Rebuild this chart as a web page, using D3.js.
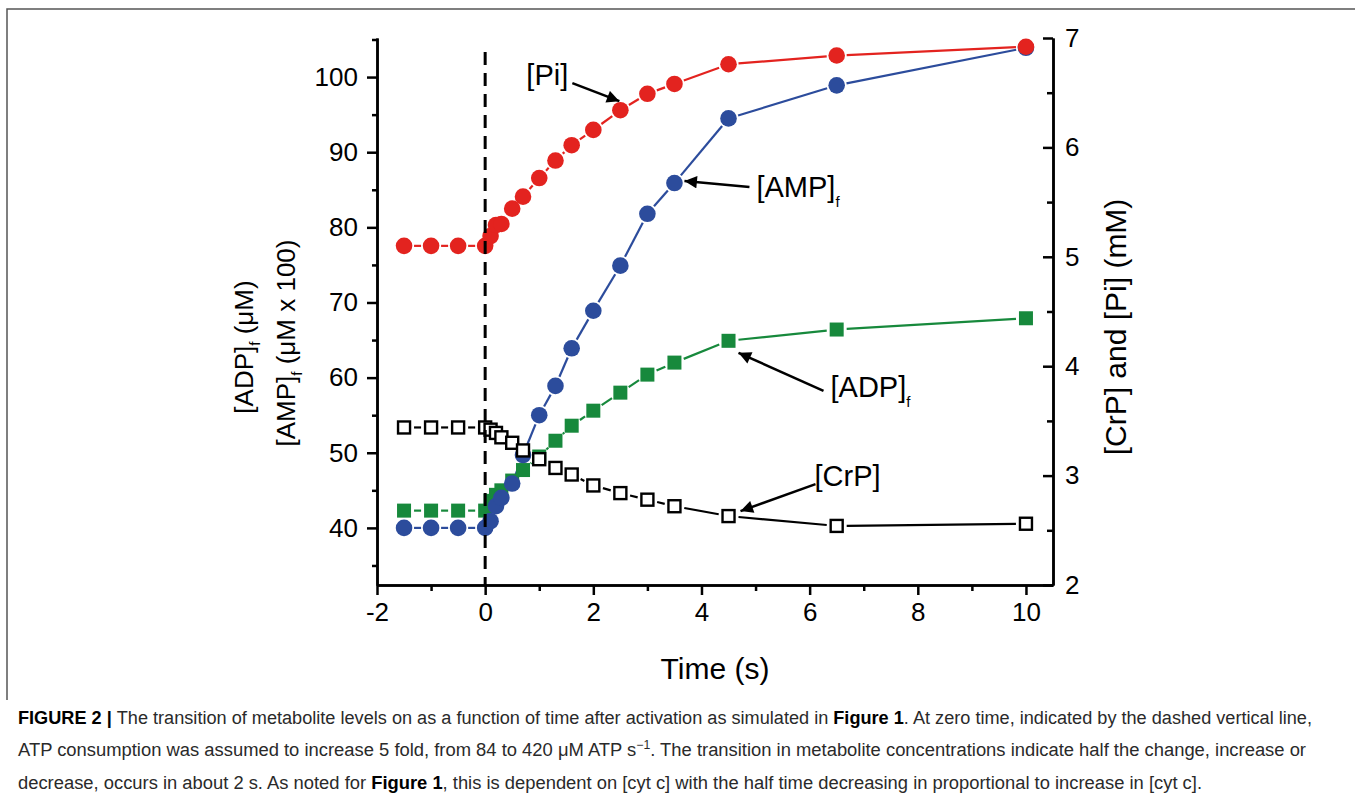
<!DOCTYPE html>
<html>
<head>
<meta charset="utf-8">
<script src="https://cdn.jsdelivr.net/npm/d3@7"></script>
<style>
  body { margin: 0; background: #fff; }
  svg text { font-family: "Liberation Sans", Arial, sans-serif; }
</style>
</head>
<body>
<script>
// time after activation (s)
let time = [-1.5, -1, -0.5, 0, 0.1, 0.2, 0.3, 0.5, 0.7, 1.0, 1.3, 1.6, 2.0, 2.5, 3.0, 3.5, 4.5, 6.5, 10];
// left axis
let amp = [40, 40, 40, 40, 40.9, 42.9, 44.0, 45.9, 49.7, 55.0, 58.9, 63.9, 68.9, 74.9, 81.8, 85.9, 94.5, 98.9, 103.9];
let adp = [42.3, 42.3, 42.3, 42.3, 43.6, 44.4, 45.0, 46.3, 47.7, 49.5, 51.6, 53.6, 55.6, 58.0, 60.4, 62.0, 64.9, 66.4, 67.9];
// right axis (mM)
let pi = [5.10, 5.10, 5.10, 5.10, 5.19, 5.29, 5.30, 5.44, 5.55, 5.72, 5.88, 6.02, 6.16, 6.34, 6.49, 6.58, 6.76, 6.84, 6.92];
let crp = [3.44, 3.44, 3.44, 3.44, 3.42, 3.39, 3.35, 3.30, 3.23, 3.15, 3.07, 3.01, 2.91, 2.84, 2.78, 2.72, 2.63, 2.54, 2.56];

let xMajor = [-2, 0, 2, 4, 6, 8, 10];
let xMinor = [-1, 1, 3, 5, 7, 9];
let yLeftMajor = [40, 50, 60, 70, 80, 90, 100];
let yLeftMinor = [35, 45, 55, 65, 75, 85, 95, 105];
let yRightMajor = [2, 3, 4, 5, 6, 7];
let yRightMinor = [2.5, 3.5, 4.5, 5.5, 6.5];

let caption = [
  [["FIGURE 2 | ", true], ["The transition of metabolite levels on as a function of time after activation as simulated in ", false], ["Figure 1", true], [". At zero time, indicated by the dashed vertical line,", false]],
  [["ATP consumption was assumed to increase 5 fold, from 84 to 420 \u03BCM ATP s", false], ["\u22121", "sup"], [". The transition in metabolite concentrations indicate half the change, increase or", false]],
  [["decrease, occurs in about 2 s. As noted for ", false], ["Figure 1", true], [", this is dependent on [cyt c] with the half time decreasing in proportional to increase in [cyt c].", false]]
];

let width = 1355, height = 802;
let svg = d3.select('body').append('svg')
            .attr('width', width)
            .attr('height', height);

let x = d3.scaleLinear().domain([-2, 10.5]).range([377, 1053]);
let yL = d3.scaleLinear().domain([32.4, 105.2]).range([585, 38]);
let yR = d3.scaleLinear().domain([2, 7]).range([585, 38]);

let red = '#e3231f', blue = '#2c4c9c', green = '#17893c';

// frame around figure
svg.append('path')
   .attr('d', 'M7,700 L7,9 L1355,9')
   .attr('fill', 'none').attr('stroke', '#555').attr('stroke-width', 1.5);

// axes
function styleAxis(g, size) {
  g.selectAll('path.domain').attr('stroke', '#000').attr('stroke-width', 2.5);
  g.selectAll('.tick line').attr('stroke', '#000').attr('stroke-width', 2.5);
  g.selectAll('.tick text').attr('fill', '#000').style('font-size', size + 'px')
   .style('font-family', '"Liberation Sans", Arial, sans-serif');
}
let noLabel = () => '';
let intLabel = (d) => d < 0 ? '-' + Math.abs(d) : String(d);

let gx = svg.append('g').attr('transform', 'translate(0,585)');
gx.append('g').call(d3.axisBottom(x).tickValues(xMinor).tickFormat(noLabel).tickSize(6).tickSizeOuter(0));
gx.append('g').call(d3.axisBottom(x).tickValues(xMajor).tickFormat(intLabel).tickSize(10).tickSizeOuter(0).tickPadding(8));
styleAxis(gx, 26);

let gl = svg.append('g').attr('transform', 'translate(377,0)');
gl.append('g').call(d3.axisLeft(yL).tickValues(yLeftMinor).tickFormat(noLabel).tickSize(5).tickSizeOuter(0));
gl.append('g').call(d3.axisLeft(yL).tickValues(yLeftMajor).tickFormat(intLabel).tickSize(10).tickSizeOuter(0).tickPadding(9));
styleAxis(gl, 26);

let gr = svg.append('g').attr('transform', 'translate(1053,0)');
gr.append('g').call(d3.axisRight(yR).tickValues(yRightMinor).tickFormat(noLabel).tickSize(-6).tickSizeOuter(0));
gr.append('g').call(d3.axisRight(yR).tickValues(yRightMajor).tickFormat(intLabel).tickSize(-10).tickSizeOuter(0).tickPadding(12));
styleAxis(gr, 26);

// axis titles
svg.append('text').attr('x', 715).attr('y', 679).attr('text-anchor', 'middle')
   .style('font-size', '30px').text('Time (s)');

svg.append('text').attr('transform', 'translate(1126,327) rotate(-90)')
   .attr('text-anchor', 'middle').style('font-size', '30px').text('[CrP] and [Pi] (mM)');

function subTitle(tx, ty, main, rest) {
  let t = svg.append('text').attr('transform', 'translate(' + tx + ',' + ty + ') rotate(-90)')
             .attr('text-anchor', 'middle').style('font-size', '26px');
  t.append('tspan').text(main);
  t.append('tspan').attr('dy', 7).style('font-size', '15px').text('f');
  t.append('tspan').attr('dy', -7).text(rest);
}
subTitle(253, 347, '[ADP]', ' (\u03BCM)');
subTitle(295, 343, '[AMP]', ' (\u03BCM x 100)');

// series lines, broken near each marker
function seriesLine(vals, yScale, color, gap) {
  let pts = time.map((t, i) => [x(t), yScale(vals[i])]);
  for (let i = 1; i < pts.length; i++) {
    let [x0, y0] = pts[i - 1], [x1, y1] = pts[i];
    let dx = x1 - x0, dy = y1 - y0, len = Math.sqrt(dx * dx + dy * dy);
    if (len <= 2 * gap + 1) continue;
    let ux = dx / len, uy = dy / len;
    svg.append('line')
       .attr('x1', x0 + ux * gap).attr('y1', y0 + uy * gap)
       .attr('x2', x1 - ux * gap).attr('y2', y1 - uy * gap)
       .attr('stroke', color).attr('stroke-width', 2.2);
  }
}

seriesLine(adp, yL, green, 10);
seriesLine(amp, yL, blue, 10);
seriesLine(pi, yR, red, 10);
seriesLine(crp, yR, '#000', 10);

svg.selectAll('rect.adp').data(time).enter().append('rect')
   .attr('class', 'adp')
   .attr('x', (d) => x(d) - 7).attr('y', (d, i) => yL(adp[i]) - 7)
   .attr('width', 14).attr('height', 14).attr('fill', green);

svg.selectAll('circle.amp').data(time).enter().append('circle')
   .attr('class', 'amp')
   .attr('cx', (d) => x(d)).attr('cy', (d, i) => yL(amp[i]))
   .attr('r', 8.3).attr('fill', blue);

svg.selectAll('circle.pi').data(time).enter().append('circle')
   .attr('class', 'pi')
   .attr('cx', (d) => x(d)).attr('cy', (d, i) => yR(pi[i]))
   .attr('r', 8.3).attr('fill', red);

svg.selectAll('rect.crp').data(time).enter().append('rect')
   .attr('class', 'crp')
   .attr('x', (d) => x(d) - 6).attr('y', (d, i) => yR(crp[i]) - 6)
   .attr('width', 12).attr('height', 12)
   .attr('fill', '#fff').attr('stroke', '#000').attr('stroke-width', 2.4);

// dashed line at activation
svg.append('line')
   .attr('x1', x(0)).attr('x2', x(0)).attr('y1', 52).attr('y2', 585)
   .attr('stroke', '#000').attr('stroke-width', 3).attr('stroke-dasharray', '13,8');

// labels with arrows
svg.append('defs').append('marker')
   .attr('id', 'head').attr('viewBox', '0 0 10 10').attr('refX', 10).attr('refY', 5)
   .attr('markerWidth', 6).attr('markerHeight', 5).attr('markerUnits', 'strokeWidth')
   .attr('orient', 'auto')
   .append('path').attr('d', 'M0,0 L10,5 L0,10 z').attr('fill', '#000');

// [label, series, y scale, point index, tip offset, tail offset from tip, text pos offset from tip, subscript]
let notes = [
  ['[Pi]', pi, yR, 13, [-1, -9], [-47, -18], [-93, -16], false],
  ['[AMP]', amp, yL, 15, [10, -2], [65, 6], [72, 16], true],
  ['[ADP]', adp, yL, 16, [10, 12], [85, 38], [92, 44], true],
  ['[CrP]', crp, yR, 16, [12, -5], [75, -27], [74, -25], false]
];
notes.forEach((n) => {
  let tx = x(time[n[3]]) + n[4][0], ty = n[2](n[1][n[3]]) + n[4][1];
  svg.append('line')
     .attr('x1', tx + n[5][0]).attr('y1', ty + n[5][1])
     .attr('x2', tx).attr('y2', ty)
     .attr('stroke', '#000').attr('stroke-width', 2.5)
     .attr('marker-end', 'url(#head)');
  let t = svg.append('text').attr('x', tx + n[6][0]).attr('y', ty + n[6][1])
             .style('font-size', '29px');
  t.append('tspan').text(n[0]);
  if (n[7]) t.append('tspan').attr('dy', 10).style('font-size', '15px').text('f');
});

// caption
let capY = [724, 756, 789];
let capLen = [1294, 1288, 1184];
caption.forEach((line, i) => {
  let t = svg.append('text').attr('x', 18).attr('y', capY[i])
             .attr('textLength', capLen[i]).attr('lengthAdjust', 'spacingAndGlyphs')
             .style('font-size', '18px').attr('fill', '#2a2a2a');
  line.forEach((p) => {
    let s = t.append('tspan').text(p[0]);
    if (p[1] === true) s.style('font-weight', 'bold').attr('fill', '#000');
    if (p[1] === 'sup') { s.attr('dy', -7).style('font-size', '12px'); }
    else if (p[0].startsWith('. The')) s.attr('dy', 7);
  });
});
</script>
</body>
</html>
